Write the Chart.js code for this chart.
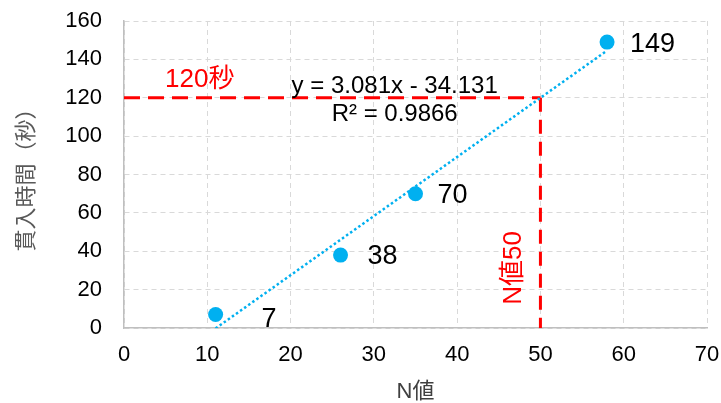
<!DOCTYPE html>
<html>
<head>
<meta charset="utf-8">
<script src="https://cdn.jsdelivr.net/npm/chart.js@4.4.1/dist/chart.umd.min.js"></script>
<style>
  html, body { margin: 0; padding: 0; background: #fff; }
  #wrap { width: 721px; height: 403px; }
</style>
</head>
<body>
<div id="wrap"><canvas id="chart"></canvas></div>
<script>
// measured data
const nValues = [11, 26, 35, 58];
const penetrationTimes = [7, 38, 70, 149];
const pointLabels = ['7', '38', '70', '149'];

// linear trendline end points (as drawn)
const trendX = [11, 58];
const trendY = [-0.2, 144.6];
const equationText = 'y = 3.081x - 34.131';
const r2Text = 'R² = 0.9866';

// reference lines
const limitTime = 120;
const limitN = 50;
const limitTimeLabel = '120秒';
const limitNLabel = 'N値50';

const FONT = '"Liberation Sans", Arial, "Noto Sans CJK JP", sans-serif';
const BLUE = '#00b0f0';
const RED = '#ff0000';

const textPlugin = {
    id: 'textPlugin',
    afterDatasetsDraw(chart) {
        const ctx = chart.ctx;
        const x = chart.scales.x;
        const y = chart.scales.y;
        ctx.save();

        // value labels next to the points
        const offs = [[46, 5], [27, 1], [22, 2], [23, 2]];
        ctx.font = '27px ' + FONT;
        ctx.fillStyle = '#000';
        ctx.textAlign = 'left';
        ctx.textBaseline = 'middle';
        nValues.forEach((n, i) => {
            ctx.fillText(pointLabels[i],
                x.getPixelForValue(n) + offs[i][0],
                y.getPixelForValue(penetrationTimes[i]) + offs[i][1]);
        });

        // trendline equation
        ctx.font = '24px ' + FONT;
        ctx.textAlign = 'center';
        ctx.fillText(equationText, x.getPixelForValue(32.5), y.getPixelForValue(126.1));
        ctx.fillText(r2Text, x.getPixelForValue(32.5), y.getPixelForValue(111.5));

        // red annotations
        ctx.fillStyle = RED;
        ctx.font = '26px ' + FONT;
        ctx.fillText(limitTimeLabel, x.getPixelForValue(9.1), y.getPixelForValue(129.2));

        ctx.translate(x.getPixelForValue(46.8), y.getPixelForValue(31.3));
        ctx.rotate(-Math.PI / 2);
        ctx.fillText(limitNLabel, 0, 0);

        ctx.restore();
    }
};

new Chart(document.getElementById('chart'), {
    type: 'scatter',
    data: {
        datasets: [
            {
                label: 'points',
                data: nValues.map((n, i) => ({ x: n, y: penetrationTimes[i] })),
                backgroundColor: BLUE,
                borderColor: BLUE,
                pointRadius: 7.5,
                pointBorderWidth: 0
            },
            {
                label: 'trend',
                data: trendX.map((v, i) => ({ x: v, y: trendY[i] })),
                showLine: true,
                borderColor: BLUE,
                borderWidth: 2.5,
                borderDash: [2.5, 2.5],
                pointRadius: 0
            },
            {
                label: 'time limit',
                data: [{ x: 0, y: limitTime }, { x: limitN, y: limitTime }],
                showLine: true,
                borderColor: RED,
                borderWidth: 3,
                borderDash: [16, 8],
                pointRadius: 0
            },
            {
                label: 'N limit',
                data: [{ x: limitN, y: limitTime }, { x: limitN, y: 0 }],
                showLine: true,
                borderColor: RED,
                borderWidth: 3,
                borderDash: [14, 8],
                pointRadius: 0
            }
        ]
    },
    options: {
        responsive: true,
        maintainAspectRatio: false,
        animation: false,
        layout: { padding: { top: 21, right: 14, left: 0, bottom: 0 } },
        plugins: {
            legend: { display: false },
            tooltip: { enabled: false }
        },
        scales: {
            x: {
                type: 'linear',
                min: 0,
                max: 70,
                ticks: { stepSize: 10, padding: 14, color: '#000', font: { family: FONT, size: 22 } },
                grid: { color: '#d9d9d9', lineWidth: 1, drawTicks: false },
                border: { display: true, color: '#bfbfbf', width: 1.5, dash: [5, 4] },
                title: {
                    display: true,
                    text: 'N値',
                    color: '#404040',
                    font: { family: FONT, size: 22, lineHeight: 1 },
                    padding: { top: 0, bottom: 0 }
                },
                afterFit(scale) {
                    scale.height = 75;
                    scale.paddingLeft = 0;
                    scale.paddingRight = 0;
                }
            },
            y: {
                type: 'linear',
                min: 0,
                max: 160,
                ticks: { stepSize: 20, padding: 22, color: '#000', font: { family: FONT, size: 22 } },
                grid: { color: '#d9d9d9', lineWidth: 1, drawTicks: false },
                border: { display: true, color: '#bfbfbf', width: 1.5, dash: [5, 4] },
                title: {
                    display: true,
                    text: '貫入時間（秒）',
                    color: '#595959',
                    font: { family: FONT, size: 22 },
                    padding: { top: 14, bottom: 0 }
                },
                afterFit(scale) {
                    scale.width = 124;
                    scale.paddingTop = 0;
                    scale.paddingBottom = 0;
                }
            }
        }
    },
    plugins: [textPlugin]
});
</script>
</body>
</html>
